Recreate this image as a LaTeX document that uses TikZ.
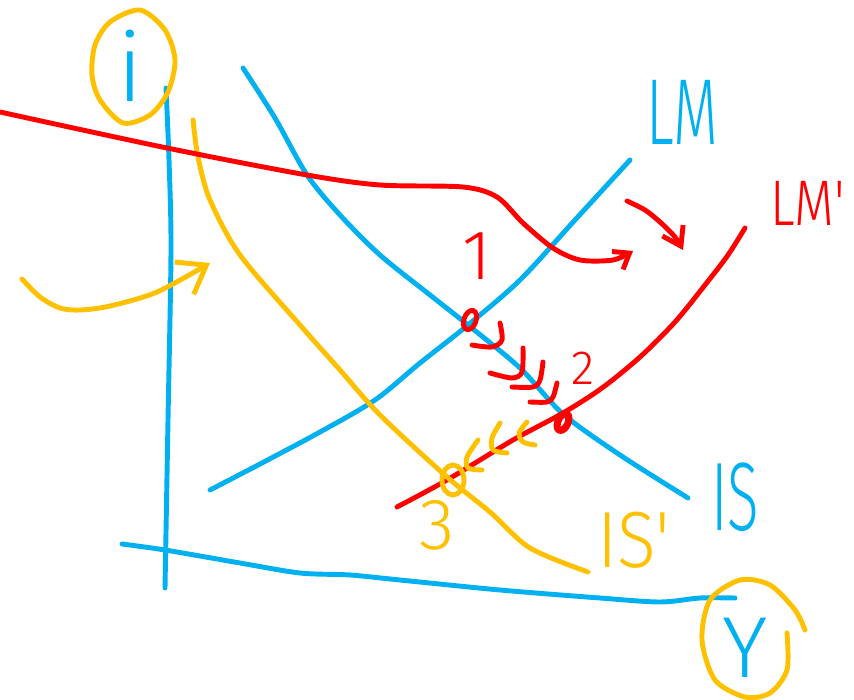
\documentclass[tikz,border=0pt]{standalone}
\usepackage{fontspec}
\usepackage{graphicx}
\usetikzlibrary{arrows.meta}
\newfontfamily\handfont{Fira Sans Light}
\definecolor{inkblue}{RGB}{0,176,240}
\definecolor{inkred}{RGB}{255,0,0}
\definecolor{inkyellow}{RGB}{255,192,0}
% hand lettering: size, horizontal squeeze, text
\newcommand{\handlabel}[3]{{\handfont\fontsize{#1}{#1}\selectfont\scalebox{#2}[1]{#3}}}

\begin{document}
\begin{tikzpicture}[x=0.03cm, y=-0.03cm,
    pen/.style={line width=4.2pt, line cap=round, line join=round},
    blueline/.style={pen, draw=inkblue},
    redline/.style={pen, draw=inkred},
    yellowline/.style={pen, draw=inkyellow},
    lbl/.style={inner sep=0pt, anchor=center}]
  \useasboundingbox (0,0) rectangle (854,700);

  % axes
  \draw[blueline] plot[smooth] coordinates {(166,88) (169,160) (171,250) (168,420) (165,588)};
  \draw[blueline] plot[smooth] coordinates {(122,544) (165,550) (240,563) (300,573) (350,575) (400,580) (500,590) (600,598) (660,602) (700,598) (735,598)};

  % IS and LM
  \draw[blueline] plot[smooth] coordinates {(243,68) (275,118) (307,175) (340,215) (380,255) (430,295) (468,325) (520,368) (563,414) (620,455) (688,498)};
  \draw[blueline] plot[smooth] coordinates {(210,490) (260,464) (320,432) (375,400) (420,363) (468,325) (520,280) (575,220) (630,160)};

  % shifted curves
  \draw[redline] plot[smooth] coordinates {(397,507) (447,480) (513,440) (563,413) (602,388) (640,357) (675,322) (705,285) (728,255) (745,228)};
  \draw[yellowline] plot[smooth] coordinates {(193,120) (198,157) (210,200) (240,255) (300,325) (340,370) (380,415) (447,477) (490,512) (530,548) (588,572)};

  % shift arrows
  \draw[redline, -{Straight Barb[length=12pt,width=18pt]}] plot[smooth] coordinates {(0,112) (167,148) (307,175) (380,185) (463,187) (497,197) (523,223) (553,248) (580,260) (613,260) (633,251)};
  \draw[redline, -{Straight Barb[length=15pt,width=20pt]}] plot[smooth] coordinates {(627,201) (645,210) (660,222) (675,237) (683,250)};
  \draw[yellowline, -{Straight Barb[length=22pt,width=32pt]}] plot[smooth] coordinates {(22,279) (40,297) (60,308) (80,310) (110,306) (157,292) (210,263)};

  % path from 1 to 2
  \draw[redline] plot[smooth] coordinates {(500,323) (502,340) (492,347) (472,345)};
  \draw[redline] plot[smooth] coordinates {(523,348) (522,372) (512,378) (490,373)};
  \draw[redline] plot[smooth] coordinates {(543,362) (540,380) (533,387) (512,387)};
  \draw[redline] plot[smooth] coordinates {(557,383) (553,397) (547,402) (530,402)};

  % path from 2 to 3
  \draw[yellowline] plot[smooth] coordinates {(478,440) (467,457) (468,468) (482,470)};
  \draw[yellowline] plot[smooth] coordinates {(500,423) (492,438) (493,450) (507,453)};
  \draw[yellowline] plot[smooth] coordinates {(527,422) (519,433) (523,442) (535,445)};

  % equilibria
  \draw[redline, rotate around={-20:(470,320)}] (470,320) ellipse [x radius=6, y radius=10];
  \draw[redline, line width=6pt, rotate around={-25:(563,422)}] (563,422) ellipse [x radius=5, y radius=9];
  \draw[yellowline] (453,480) ellipse [x radius=11, y radius=15];

  % circled variables
  \draw[yellowline] plot[smooth cycle] coordinates {(140,10) (110,22) (95,45) (92,75) (100,100) (123,123) (150,115) (168,92) (175,60) (165,30)};
  \draw[yellowline] plot[smooth] coordinates {(787,633) (787,670) (770,693) (745,697) (715,680) (702,640) (710,600) (740,580) (770,585) (795,610) (805,630)};

  % labels
  \node[lbl, text=inkblue] (ilbl) at (130,66) {\handlabel{81}{1}{i}};
  \node[lbl, text=inkblue] (ylbl) at (745,648) {\handlabel{74}{1}{Y}};
  \node[lbl, text=inkblue] (lmlbl) at (682,112) {\handlabel{80}{0.62}{LM}};
  \node[lbl, text=inkred] (lmplbl) at (808,203) {\handlabel{55}{0.8}{LM'}};
  \node[lbl, text=inkblue] (islbl) at (735,497) {\handlabel{83}{0.6}{IS}};
  \node[lbl, text=inkyellow] (isplbl) at (634,540) {\handlabel{68}{0.9}{IS'}};
  \node[lbl, text=inkred] (onelbl) at (477,256) {\handlabel{60}{1}{1}};
  \node[lbl, text=inkred] (twolbl) at (583,368) {\handlabel{41}{1}{2}};
  \node[lbl, text=inkyellow] (threelbl) at (437,525) {\handlabel{62}{1}{3}};
\end{tikzpicture}
\end{document}
